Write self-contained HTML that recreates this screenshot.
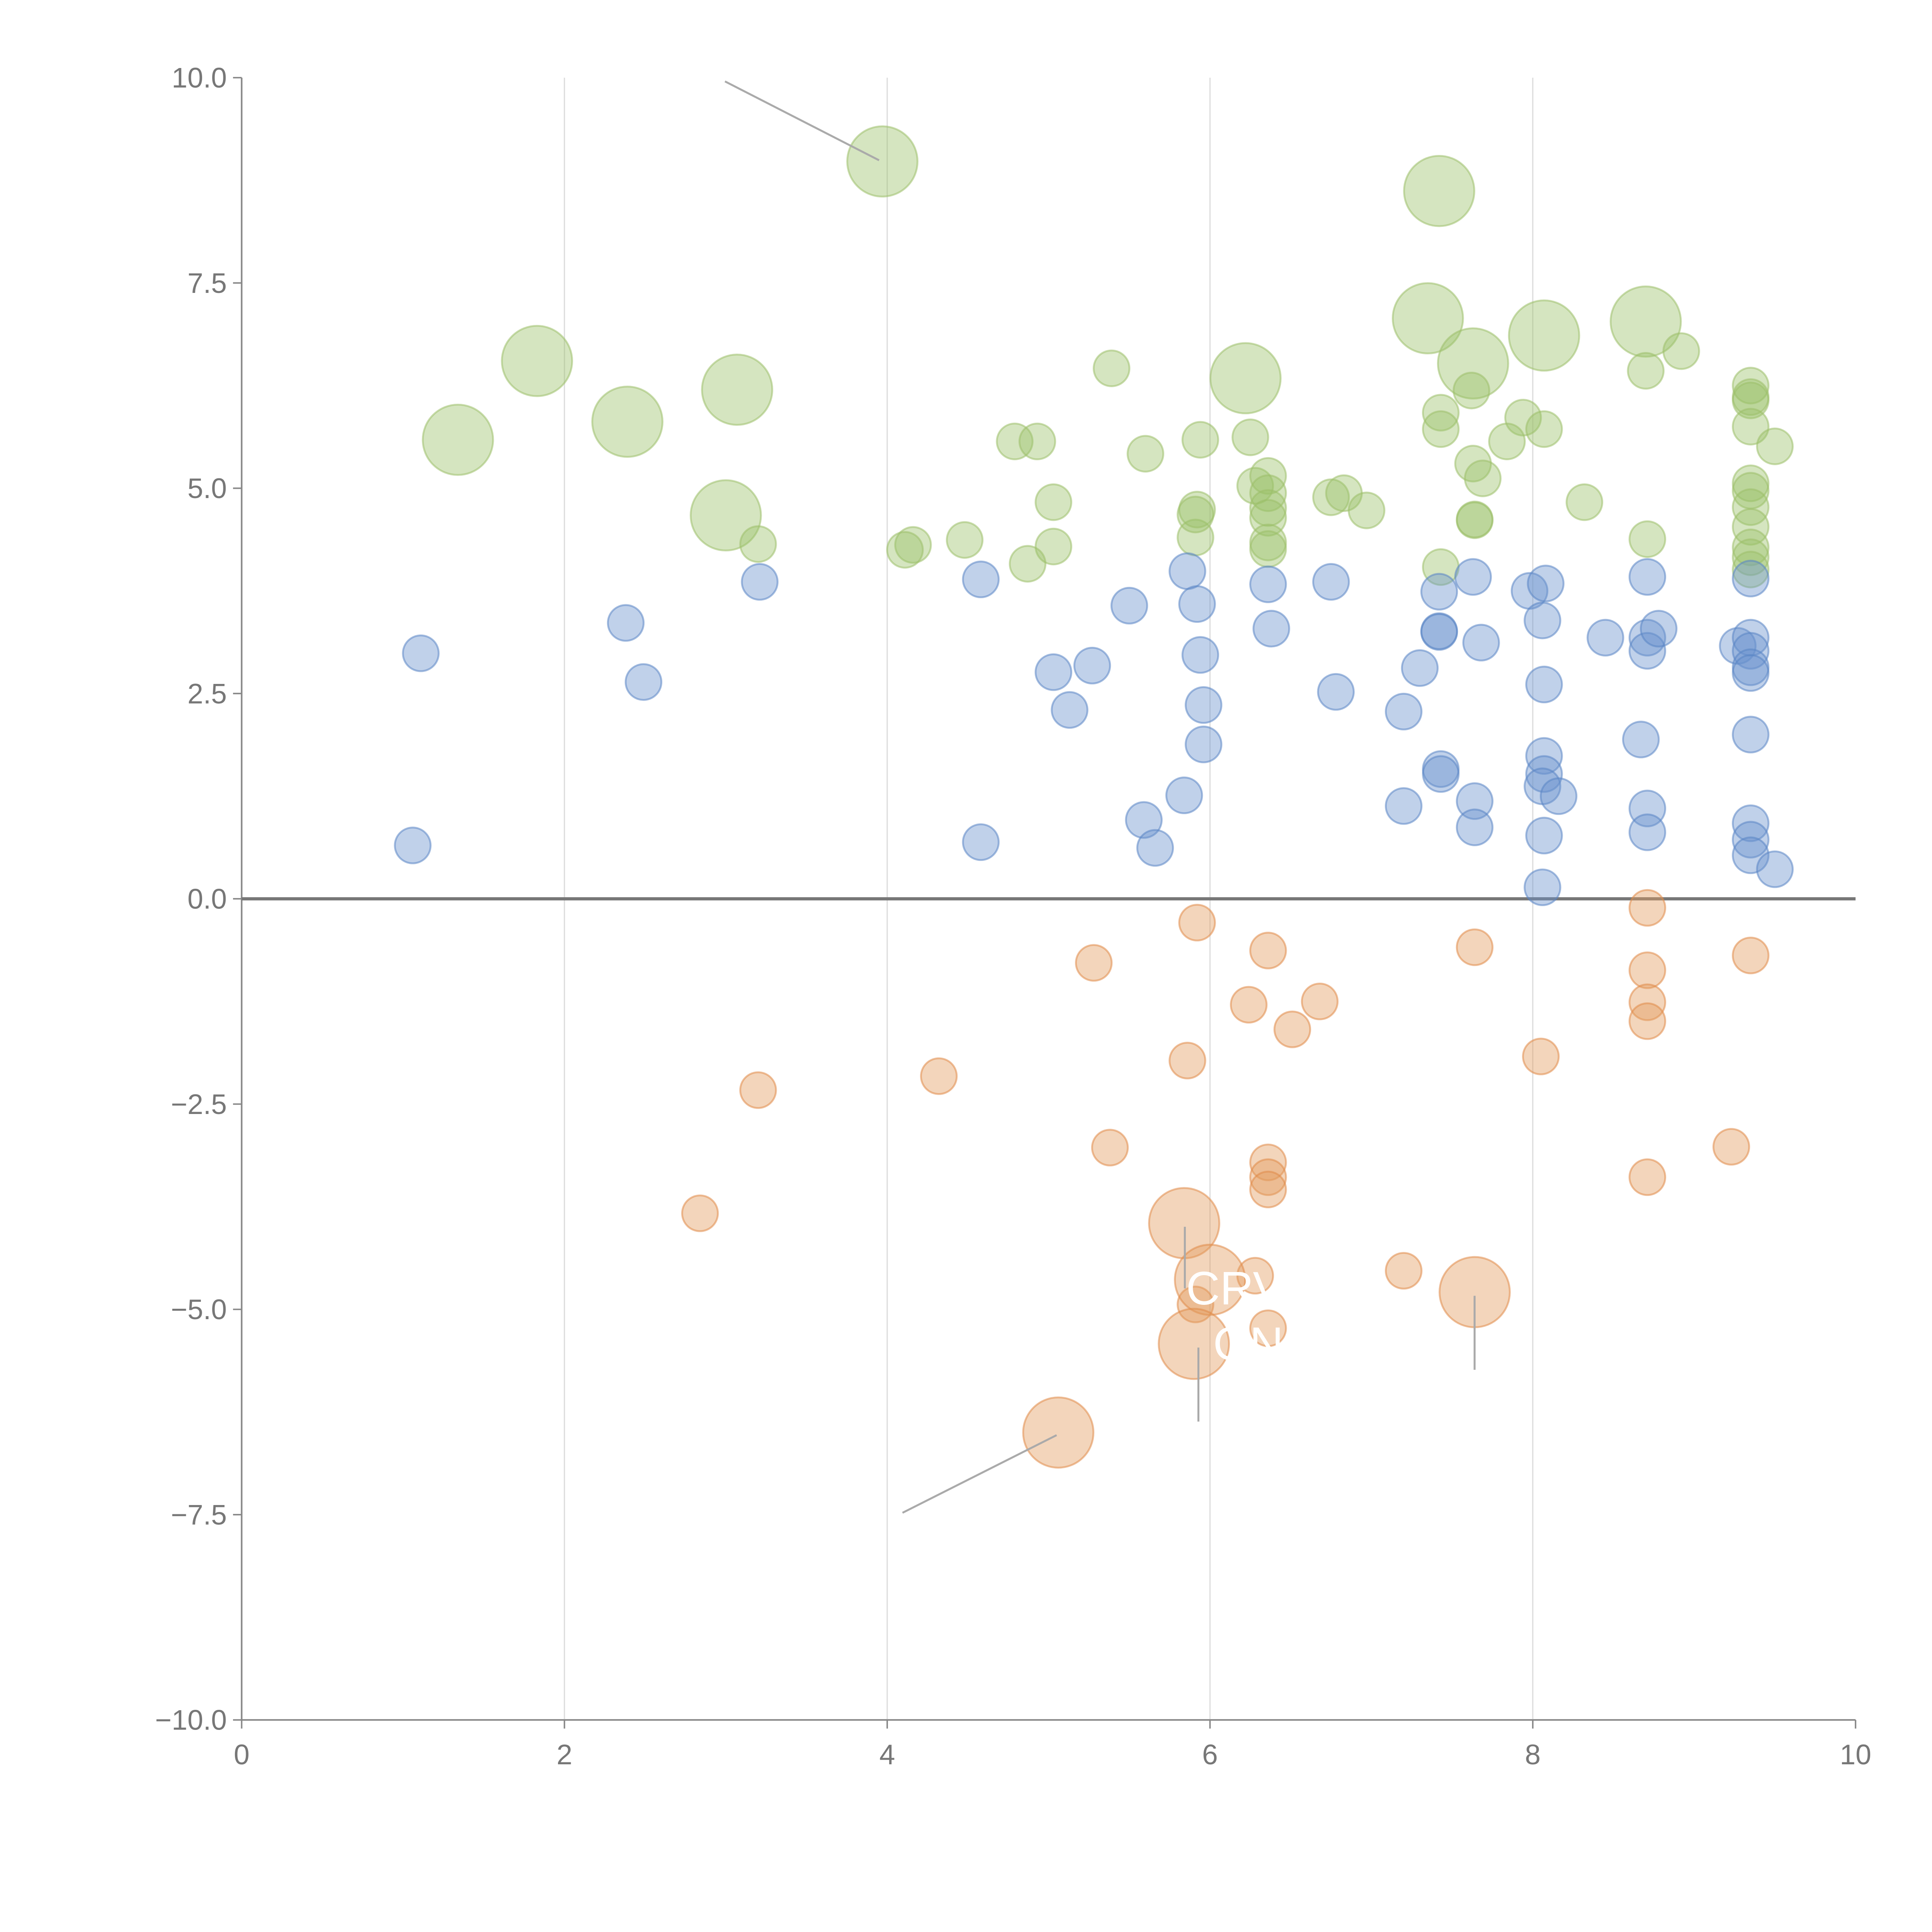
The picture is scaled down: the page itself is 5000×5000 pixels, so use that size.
<!DOCTYPE html>
<html><head><meta charset="utf-8"><style>
html,body{margin:0;padding:0;background:#fff;width:5000px;height:5000px;overflow:hidden}
svg{display:block}
text{font-family:"Liberation Sans",sans-serif}
</style></head><body>
<svg id="chart" width="5000" height="5000" viewBox="0 0 1567 1567" xmlns="http://www.w3.org/2000/svg">
<g id="grid"></g>
<g id="axes"></g>
<g id="marks"></g>
<g id="ann"></g>
</svg>
<script>
const xTicks=[0,2,4,6,8,10];
const yTicks=[10,7.5,5,2.5,0,-2.5,-5,-7.5,-10];
const yTickLabels=["10.0","7.5","5.0","2.5","0.0","\u22122.5","\u22125.0","\u22127.5","\u221210.0"];
// [x, y, size]
const greenSeries=[[3.97,8.98,2],[7.42,8.62,2],[7.35,7.07,2],[8.07,6.86,2],[8.70,7.03,2],[7.63,6.52,2],[6.22,6.34,2],[1.83,6.55,2],[3.07,6.20,2],[2.39,5.81,2],[1.34,5.59,2],[3.00,4.67,2],
[5.39,6.46,1],[5.60,5.42,1],[5.94,5.59,1],[6.25,5.62,1],[4.79,5.57,1],[4.93,5.57,1],[5.03,4.83,1],[5.03,4.29,1],[4.87,4.08,1],[4.48,4.37,1],[4.16,4.31,1],[4.11,4.25,1],[3.20,4.32,1],[5.91,4.40,1],[5.92,4.74,1],[5.91,4.68,1],[6.28,5.03,1],[6.36,5.15,1],[6.36,4.94,1],[6.36,4.76,1],[6.36,4.64,1],[6.36,4.34,1],[6.36,4.26,1],[6.75,4.89,1],[6.83,4.94,1],[6.97,4.73,1],[7.43,5.92,1],[7.43,5.72,1],[7.62,6.19,1],[7.63,5.30,1],[7.69,5.12,1],[7.64,4.61,1],[7.64,4.62,1],[7.43,4.04,1],[7.94,5.86,1],[7.84,5.57,1],[8.07,5.72,1],[8.32,4.83,1],[8.70,6.43,1],[8.92,6.67,1],[8.71,4.38,1],[9.35,6.25,1],[9.35,6.07,1],[9.35,6.11,1],[9.35,5.75,1],[9.35,5.06,1],[9.35,4.97,1],[9.35,4.77,1],[9.35,4.53,1],[9.35,4.28,1],[9.35,4.16,1],[9.35,4.01,1],[9.50,5.51,1]];
const blueSeries=[[1.11,2.99,1],[1.06,0.65,1],[2.38,3.36,1],[2.49,2.64,1],[3.21,3.86,1],[4.58,3.89,1],[4.58,0.69,1],[5.03,2.76,1],[5.13,2.30,1],[5.27,2.84,1],[5.50,3.57,1],[5.59,0.96,1],[5.66,0.62,1],[5.86,3.99,1],[5.92,3.59,1],[5.94,2.97,1],[5.96,2.36,1],[5.96,1.88,1],[5.84,1.26,1],[6.36,3.83,1],[6.38,3.29,1],[6.75,3.86,1],[6.78,2.52,1],[7.20,2.28,1],[7.20,1.13,1],[7.30,2.81,1],[7.42,3.74,1],[7.42,3.26,1],[7.42,3.25,1],[7.43,1.58,1],[7.43,1.52,1],[7.63,3.92,1],[7.68,3.12,1],[7.64,1.19,1],[7.64,0.87,1],[7.98,3.75,1],[8.08,3.84,1],[8.06,3.39,1],[8.07,2.61,1],[8.07,1.74,1],[8.07,1.52,1],[8.06,1.37,1],[8.16,1.25,1],[8.07,0.77,1],[8.06,0.14,1],[8.45,3.18,1],[8.71,3.92,1],[8.71,3.18,1],[8.71,3.02,1],[8.78,3.29,1],[8.67,1.94,1],[8.71,1.10,1],[8.71,0.81,1],[9.27,3.08,1],[9.35,3.90,1],[9.35,3.18,1],[9.35,3.02,1],[9.35,2.82,1],[9.35,2.75,1],[9.35,2.00,1],[9.35,0.92,1],[9.35,0.72,1],[9.35,0.53,1],[9.50,0.36,1]];
const orangeSeries=[[2.84,-3.83,1],[3.20,-2.33,1],[4.32,-2.16,1],[5.28,-0.78,1],[5.38,-3.03,1],[5.86,-1.97,1],[5.92,-0.29,1],[6.24,-1.29,1],[6.36,-0.63,1],[6.51,-1.59,1],[6.68,-1.25,1],[6.36,-3.21,1],[6.36,-3.39,1],[6.36,-3.54,1],[6.28,-4.59,1],[5.91,-4.94,1],[6.36,-5.23,1],[7.20,-4.53,1],[7.64,-0.59,1],[8.05,-1.92,1],[8.71,-0.11,1],[8.71,-0.87,1],[8.71,-1.26,1],[8.71,-1.49,1],[8.71,-3.39,1],[9.23,-3.02,1],[9.35,-0.69,1],
[5.84,-3.95,2],[6.00,-4.64,2],[5.90,-5.42,2],[7.64,-4.79,2],[5.06,-6.50,2]];

const NS="http://www.w3.org/2000/svg";
const X0=196,X1=1505,Y0=1395,Y1=63;
function sx(v){return X0+(v-0)/(10-0)*(X1-X0);}
function sy(v){return Y0-(v+10)/20*(Y0-Y1);}
function sr(s){return s===2?28.5:14.5;}
function mk(tag,attrs,parent){const e=document.createElementNS(NS,tag);for(const k in attrs)e.setAttribute(k,attrs[k]);parent.appendChild(e);return e;}
const grid=document.getElementById('grid'),axes=document.getElementById('axes'),marks=document.getElementById('marks'),ann=document.getElementById('ann');

xTicks.forEach(t=>{
  if(t>0&&t<10){const l=mk('line',{x1:sx(t),x2:sx(t),y1:Y1,y2:Y0,stroke:'#ddd','stroke-width':1},grid);
  
  }
  const tk=mk('line',{x1:sx(t),x2:sx(t),y1:Y0,y2:Y0+7,stroke:'#888','stroke-width':1.2},axes);
  
  
  const tx=mk('text',{x:sx(t),y:Y0+36,'text-anchor':'middle','font-size':23,fill:'#777'},axes);
  tx.textContent=String(t);
  
  
});
yTicks.forEach((t,i)=>{
  const tk=mk('line',{x1:X0-7,x2:X0,y1:sy(t),y2:sy(t),stroke:'#888','stroke-width':1.2},axes);
  
  
  const tx=mk('text',{x:X0-12,y:sy(t)+8,'text-anchor':'end','font-size':23,fill:'#777'},axes);
  tx.textContent=yTickLabels[i];
  
  
});
const ya=mk('line',{x1:X0,x2:X0,y1:Y1,y2:Y0,stroke:'#888','stroke-width':1.3},axes);


const xa=mk('line',{x1:X0,x2:X1,y1:Y0,y2:Y0,stroke:'#888','stroke-width':1.3},axes);



function drawSeries(data,fill,stroke,name){
  data.forEach(d=>{
    const c=mk('circle',{cx:sx(d[0]),cy:sy(d[1]),r:sr(d[2]),fill:fill,'fill-opacity':0.42,stroke:stroke,'stroke-opacity':0.55,'stroke-width':1.5},marks);
    
    
  });
}
drawSeries(greenSeries,'#9cc06a','#9cc06a','green-bubble');
drawSeries(blueSeries,'#6a92cc','#5a85c4','blue-bubble');
drawSeries(orangeSeries,'#e39a5c','#e08a48','orange-bubble');

const zl=mk('line',{x1:X0,x2:X1,y1:sy(0),y2:sy(0),stroke:'#777','stroke-width':2.6},axes);


</script>
<svg style="position:absolute;left:0;top:0" width="5000" height="5000" viewBox="0 0 1567 1567">
<g stroke="#aaa" stroke-width="1.6">
<line x1="588" y1="66" x2="713" y2="130"/>
<line x1="732" y1="1227" x2="857" y2="1164"/>
<line x1="961" y1="995" x2="961" y2="1045"/>
<line x1="972" y1="1093" x2="972" y2="1153"/>
<line x1="1196" y1="1051" x2="1196" y2="1111"/>
</g>
<text x="962" y="1058" font-size="38" fill="#fff" font-family="Liberation Sans, sans-serif">CRV</text>
<text x="984" y="1103" font-size="38" fill="#fff" font-family="Liberation Sans, sans-serif">ON</text>
</svg>
</body></html>
